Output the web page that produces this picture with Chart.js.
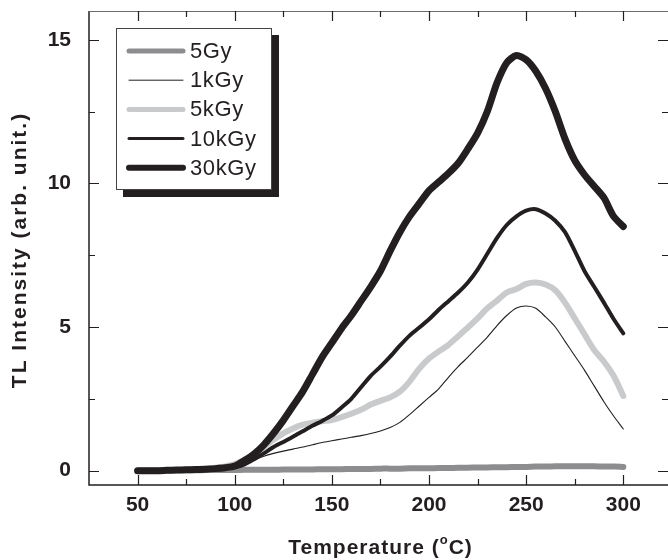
<!DOCTYPE html>
<html>
<head>
<meta charset="utf-8">
<script src="https://cdn.jsdelivr.net/npm/chart.js@4.4.1/dist/chart.umd.min.js"></script>
<style>
  html, body { margin: 0; padding: 0; background: #fff; }
  #wrap { width: 668px; height: 560px; }
</style>
</head>
<body>
<div id="wrap"><canvas id="tlChart"></canvas></div>
<script>
const temps = [
  50, 55, 60, 65, 70, 75, 80, 85, 90, 95,
  100, 105, 110, 115, 120, 125, 130, 135, 140, 145,
  150, 155, 160, 165, 170, 175, 180, 185, 190, 195,
  200, 205, 210, 215, 220, 225, 230, 235, 240, 245,
  250, 255, 260, 265, 270, 275, 280, 285, 290, 295,
  300
];
const dose5Gy = [
  0.00, 0.00, 0.00, 0.01, 0.01, 0.01, 0.01, 0.02, 0.02, 0.02,
  0.02, 0.03, 0.03, 0.03, 0.03, 0.04, 0.04, 0.04, 0.04, 0.05,
  0.05, 0.05, 0.06, 0.06, 0.06, 0.07, 0.07, 0.07, 0.08, 0.08,
  0.08, 0.09, 0.09, 0.10, 0.10, 0.11, 0.11, 0.12, 0.12, 0.13,
  0.13, 0.14, 0.14, 0.15, 0.15, 0.15, 0.15, 0.15, 0.14, 0.14,
  0.13
];
const dose1kGy = [
  0.00, 0.00, 0.00, 0.01, 0.01, 0.02, 0.02, 0.03, 0.04, 0.06,
  0.09, 0.18, 0.36, 0.50, 0.60, 0.68, 0.75, 0.82, 0.90, 0.98,
  1.04, 1.10, 1.16, 1.22, 1.29, 1.38, 1.50, 1.68, 1.95, 2.25,
  2.55, 2.85, 3.25, 3.62, 3.95, 4.30, 4.65, 5.05, 5.40, 5.66,
  5.73, 5.65, 5.35, 5.00, 4.50, 4.00, 3.50, 2.95, 2.40, 1.90,
  1.45
];
const dose5kGy = [
  0.00, 0.00, 0.01, 0.01, 0.02, 0.03, 0.05, 0.07, 0.10, 0.15,
  0.23, 0.38, 0.58, 0.82, 1.08, 1.30, 1.47, 1.60, 1.67, 1.72,
  1.76, 1.86, 1.98, 2.12, 2.30, 2.43, 2.55, 2.75, 3.10, 3.55,
  3.90, 4.15, 4.38, 4.68, 4.98, 5.30, 5.65, 5.92, 6.20, 6.32,
  6.50, 6.55, 6.48, 6.28, 5.85, 5.30, 4.75, 4.20, 3.80, 3.30,
  2.60
];
const dose10kGy = [
  0.00, 0.00, 0.00, 0.01, 0.01, 0.02, 0.03, 0.04, 0.06, 0.08,
  0.12, 0.22, 0.40, 0.60, 0.82, 1.00, 1.18, 1.37, 1.56, 1.73,
  1.92, 2.20, 2.50, 2.90, 3.30, 3.62, 3.97, 4.35, 4.70, 4.98,
  5.27, 5.60, 5.90, 6.20, 6.55, 7.00, 7.55, 8.10, 8.55, 8.85,
  9.05, 9.10, 8.95, 8.70, 8.30, 7.65, 6.95, 6.40, 5.85, 5.28,
  4.78
];
const dose30kGy = [
  0.00, 0.00, 0.00, 0.01, 0.02, 0.03, 0.04, 0.05, 0.07, 0.10,
  0.16, 0.35, 0.58, 0.90, 1.30, 1.75, 2.25, 2.75, 3.35, 3.95,
  4.45, 4.95, 5.40, 5.90, 6.40, 6.95, 7.65, 8.30, 8.85, 9.30,
  9.75, 10.05, 10.35, 10.70, 11.20, 11.75, 12.50, 13.50, 14.20, 14.45,
  14.30, 13.90, 13.30, 12.50, 11.55, 10.80, 10.30, 9.90, 9.50, 8.85,
  8.50
];
const seriesNames = ["5Gy", "1kGy", "5kGy", "10kGy", "30kGy"];
const xTicks = [50, 100, 150, 200, 250, 300];
const yTicks = [0, 5, 10, 15];

const ink = "#231f20";
const fam = "'Liberation Sans', Arial, sans-serif";
const styles = [
  { color: "#8d8d8f", width: 6, legendWidth: 5, order: 4 },
  { color: ink, width: 1.1, legendWidth: 1, order: 2 },
  { color: "#c9cacc", width: 6, legendWidth: 5, order: 3 },
  { color: ink, width: 4, legendWidth: 3, order: 1 },
  { color: ink, width: 7, legendWidth: 6, order: 0 }
];
const allSeries = [dose5Gy, dose1kGy, dose5kGy, dose10kGy, dose30kGy];

const datasets = allSeries.map((vals, i) => ({
  label: seriesNames[i],
  data: vals.map((v, j) => ({ x: temps[j], y: v })),
  borderColor: styles[i].color,
  borderWidth: styles[i].width,
  borderCapStyle: "round",
  borderJoinStyle: "round",
  pointRadius: 0,
  tension: 0.25,
  fill: false,
  order: styles[i].order
}));

// axes, inward ticks, axis titles and boxed legend with drop shadow
const frame = {
  id: "frame",
  afterDraw(chart) {
    const { ctx, chartArea: a, scales: { x, y } } = chart;
    ctx.save();
    ctx.strokeStyle = ink;
    ctx.lineWidth = 1.5;
    ctx.beginPath();
    ctx.moveTo(a.left, a.top);
    ctx.lineTo(a.left, a.bottom);
    ctx.lineTo(a.right, a.bottom);
    ctx.stroke();
    ctx.lineWidth = 1;
    ctx.strokeStyle = "#6d6d6d";
    ctx.beginPath();
    ctx.moveTo(a.left, a.top + 0.5);
    ctx.lineTo(a.right, a.top + 0.5);
    ctx.stroke();

    ctx.strokeStyle = ink;
    ctx.lineWidth = 1.2;
    for (let t = 50; t <= 300; t += 25) {
      const px = Math.round(x.getPixelForValue(t)) + 0.5;
      const len = t % 50 === 0 ? 10 : 6;
      ctx.beginPath();
      ctx.moveTo(px, a.bottom); ctx.lineTo(px, a.bottom - len);
      ctx.moveTo(px, a.top); ctx.lineTo(px, a.top + len);
      ctx.stroke();
    }
    for (let v = 0; v <= 15; v += 2.5) {
      const py = Math.round(y.getPixelForValue(v)) + 0.5;
      const len = v % 5 === 0 ? 10 : 6;
      ctx.beginPath();
      ctx.moveTo(a.left, py); ctx.lineTo(a.left + len, py);
      ctx.moveTo(a.right, py); ctx.lineTo(a.right - len, py);
      ctx.stroke();
    }

    // axis titles
    ctx.fillStyle = ink;
    ctx.textBaseline = "alphabetic";
    ctx.textAlign = "left";
    ctx.font = "bold 21px " + fam;
    ctx.letterSpacing = "1px";
    const p1 = "Temperature (", p2 = "C)";
    const w1 = ctx.measureText(p1).width, w2 = ctx.measureText(p2).width;
    ctx.font = "bold 13px " + fam;
    const wo = ctx.measureText("o").width;
    let tx = (a.left + a.right) / 2 + 2 - (w1 + wo + w2) / 2;
    const ty = 554;
    ctx.font = "bold 21px " + fam;
    ctx.fillText(p1, tx, ty);
    ctx.font = "bold 13px " + fam;
    ctx.fillText("o", tx + w1, ty - 10);
    ctx.font = "bold 21px " + fam;
    ctx.fillText(p2, tx + w1 + wo, ty);

    ctx.save();
    ctx.translate(20, 250);
    ctx.rotate(-Math.PI / 2);
    ctx.letterSpacing = "2px";
    ctx.textAlign = "center";
    ctx.textBaseline = "middle";
    ctx.fillText("TL Intensity (arb. unit.)", 0, 0);
    ctx.restore();

    // legend
    const bx = 116, by = 28, bw = 156, bh = 162;
    ctx.fillStyle = ink;
    ctx.fillRect(bx + 7, by + 7, bw, bh);
    ctx.fillStyle = "#fff";
    ctx.fillRect(bx, by, bw, bh);
    ctx.strokeStyle = "#444";
    ctx.lineWidth = 1;
    ctx.strokeRect(bx + 0.5, by + 0.5, bw - 1, bh - 1);
    ctx.font = "22px " + fam;
    ctx.letterSpacing = "0.6px";
    ctx.textBaseline = "middle";
    ctx.textAlign = "left";
    seriesNames.forEach((name, i) => {
      const ry = 51 + i * 29.2;
      ctx.strokeStyle = styles[i].color;
      ctx.lineWidth = styles[i].legendWidth;
      ctx.lineCap = "round";
      ctx.beginPath();
      ctx.moveTo(129, ry); ctx.lineTo(183, ry);
      ctx.stroke();
      ctx.fillStyle = ink;
      ctx.fillText(name, 190, ry + 1);
    });
    ctx.letterSpacing = "0px";
    ctx.restore();
  }
};

const tickFont = { family: fam, size: 21, weight: "bold" };

new Chart(document.getElementById("tlChart"), {
  type: "line",
  data: { datasets },
  options: {
    responsive: true,
    maintainAspectRatio: false,
    animation: false,
    layout: { autoPadding: false, padding: { top: 11, right: 0, left: 0, bottom: 0 } },
    plugins: { legend: { display: false }, tooltip: { enabled: false } },
    scales: {
      x: {
        type: "linear",
        min: 25,
        max: 323,
        afterBuildTicks: s => { s.ticks = xTicks.map(v => ({ value: v })); },
        afterFit: s => { s.height = 75; s.paddingLeft = 0; s.paddingRight = 0; },
        grid: { display: false },
        border: { display: false },
        ticks: { color: ink, font: tickFont, padding: 0, maxRotation: 0 }
      },
      y: {
        min: -0.5,
        max: 16,
        afterBuildTicks: s => { s.ticks = yTicks.map(v => ({ value: v })); },
        afterFit: s => { s.width = 89; s.paddingTop = 0; s.paddingBottom = 0; },
        grid: { display: false },
        border: { display: false },
        ticks: { color: ink, font: tickFont, padding: 10 }
      }
    }
  },
  plugins: [frame]
});
</script>
</body>
</html>
